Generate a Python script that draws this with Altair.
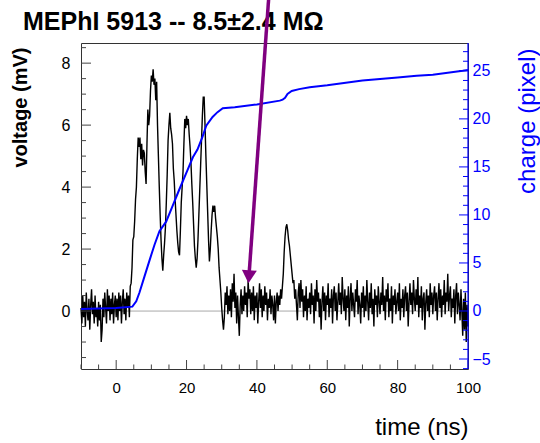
import altair as alt
import pandas as pd
import numpy as np

FONT = "Liberation Sans"
TITLE = "MEPhI 5913 -- 8.5\u00b12.4 M\u03a9"

# ---- waveform (voltage in mV), sampled every 0.25 ns from -10 ns ----
t_start = -10.0
t_step = 0.25
voltage = [
    0.1, -0.4, 0.5, -0.2, 0.3, -0.5, 0.6, 0.0, -0.3, 0.4, -0.6, 0.2, 0.7, -0.1, 0.3, -0.4, 0.5, -0.2, 0.1, -0.5,
    0.3, -0.3, 0.2, -1.0, -0.6, 0.4, -0.2, 0.6, 0.1, -0.4, 0.7, 0.0, 0.5, -0.3, 0.4, -0.1, 0.6, -0.4, 0.2, 0.5,
    -0.2, 0.4, -0.3, 0.6, 0.0, 0.5, -0.4, 0.3, 0.7, -0.1, 0.4, -0.3, 0.6, 0.1, 0.5, -0.2, 0.8, 0.9, 1.4, 2.3,
    2.4, 2.9, 3.6, 4.0, 4.9, 5.6, 5.3, 5.6, 4.9, 5.4, 4.7, 5.2, 5.1, 4.5, 4.1, 5.4, 6.5, 6.0, 6.3, 7.1,
    7.6, 7.4, 7.8, 7.3, 7.5, 6.8, 7.4, 6.0, 5.0, 4.0, 3.1, 2.3, 1.7, 1.3, 1.8, 2.2, 2.7, 3.5, 4.4, 5.5,
    6.0, 6.4, 5.9, 5.7, 5.4, 4.6, 4.2, 3.6, 3.1, 2.6, 2.2, 1.9, 1.8, 2.6, 3.5, 4.0, 4.5, 5.4, 6.2, 5.9,
    6.3, 6.0, 6.2, 5.7, 5.3, 4.8, 4.1, 3.5, 2.8, 2.1, 1.7, 1.4, 1.7, 2.3, 3.1, 3.9, 4.7, 5.5, 6.3, 6.9,
    6.9, 6.0, 5.0, 4.1, 3.2, 2.3, 1.6, 2.0, 2.6, 3.1, 3.4, 3.2, 3.4, 3.0, 2.7, 2.4, 2.0, 1.4, 1.0, 0.6,
    0.1, -0.3, -0.6, -0.2, 0.6, 0.2, 0.8, -0.1, 0.5, 0.0, 0.7, -0.2, 0.9, 0.3, 1.2, 0.1, 0.6, -0.4, 0.5, -0.2,
    -0.8, 0.2, 0.7, -0.1, 0.5, 0.0, 0.8, 0.2, 0.6, -0.2, 1.0, 0.4, 0.7, -0.1, 0.6, 0.0, 0.8, -0.3, 0.5, 0.1,
    0.6, -0.4, 0.3, 0.9, 0.1, 0.7, -0.2, 0.5, 0.0, 0.8, 0.2, 0.6, -0.3, 0.4, 0.1, 0.7, -0.1, 0.5, 0.2, -0.3,
    0.5, -0.4, 0.3, 0.6, 0.0, 0.5, 0.2, 0.7, 0.4, 0.8, 1.2, 1.9, 2.4, 2.7, 2.8, 2.6, 2.3, 2.1, 1.8, 1.5,
    1.2, 0.9, 1.0, 0.4, 0.7, 0.2, -0.3, 0.6, 0.9, 0.1, 1.0, 0.3, 0.7, -0.2, 0.5, 0.0, 0.8, -0.3, 0.4, 0.1,
    0.6, -0.1, 0.9, 0.2, 0.5, -0.4, 0.7, 0.0, 1.0, 0.3, 0.6, -0.2, 0.4, -0.6, 0.3, 0.8, 0.0, 0.6, -0.3, 0.5,
    0.2, 0.9, -0.2, 0.4, 0.1, 0.7, -0.4, 0.5, 0.8, 0.0, 0.6, -0.3, 0.3, 0.9, 0.2, 0.6, -0.1, 1.1, 0.4, 0.0,
    0.7, -0.3, 0.5, 0.1, 0.8, -0.5, 0.4, 0.9, 0.0, 0.6, 0.2, -0.2, 0.7, 0.3, 1.0, -0.1, 0.5, 0.2, -0.4, 0.6,
    0.1, 0.8, -0.2, 0.5, 0.0, 1.0, 0.3, -0.3, 0.6, 0.1, 0.9, -0.1, 0.4, -0.5, 0.7, 0.2, 0.5, -0.2, 0.8, 0.3,
    -0.1, 0.6, 0.2, 1.1, 0.0, 0.5, -0.3, 0.7, 0.3, 0.9, -0.2, 0.4, 0.0, 0.8, -0.4, 0.5, 0.2, 0.7, -0.1, 0.3,
    0.6, 0.0, 0.9, -0.3, 0.4, 0.1, 0.7, -0.2, 0.5, 0.8, 0.0, 0.6, -0.5, 0.3, 0.9, 0.2, 0.6, -0.1, 1.0, 0.4,
    0.0, 0.7, 0.2, 1.1, -0.2, 0.5, 0.1, 0.8, -0.3, 0.4, 0.6, -0.6, 0.3, 0.7, 0.0, 0.5, -0.2, 0.9, 0.2, 0.6,
    -0.1, 0.5, 0.8, 0.0, 0.6, -0.3, 0.4, 0.9, 0.1, 0.7, -0.2, 0.5, 0.2, 1.0, -0.1, 0.6, 0.3, 1.2, 0.0, 0.5,
    0.8, -0.2, 0.4, 0.1, 0.7, -0.4, 0.5, 0.9, -0.1, 0.6, 0.2, -0.3, 0.7, 0.0, -0.8, 0.4, -0.6, 0.6, -1.0, 0.2,
    -0.5,
]
time = [t_start + i * t_step for i in range(len(voltage))]

# ---- integrated charge (pixel) ----
charge_t = [-10, -5, 0, 4.6, 5.7, 6.6, 8.05, 9.5, 10.9, 12.3, 14.2, 16.1, 18.0, 20.3, 21.8,
            23.1, 24.5, 25.6, 27.4, 28.8, 30.3, 33.7, 40, 46.5, 47.3, 48.0, 48.7, 49.9, 52, 55,
            60, 70, 80, 85.4, 90, 98.5, 100]
charge_q = [0.2, 0.25, 0.3, 0.45, 1.0, 1.9, 3.6, 5.3, 6.9, 8.3, 9.3, 11.0, 12.7, 14.7, 16.0,
            16.8, 18.1, 19.3, 20.2, 20.7, 21.1, 21.2, 21.5, 21.9, 22.0, 22.2, 22.6, 22.9, 23.1, 23.3,
            23.5, 24.0, 24.3, 24.5, 24.6, 25.0, 25.1]

# ---- annotation arrow (time ns, voltage mV): tail, head ----
arrow_t = [43.6, 37.73]
arrow_v = [10.5, 1.11]

# ---- axes ----
time_labels = [0, 20, 40, 60, 80, 100]
volt_labels = [0, 2, 4, 6, 8]
charge_labels = [-5, 0, 5, 10, 15, 20, 25]
time_minor = [v for v in np.arange(-10, 100.1, 5).tolist() if v not in time_labels]
volt_minor = [v for v in np.arange(-1.5, 8.6, 0.5).tolist() if v not in volt_labels]
charge_minor = [v for v in range(-6, 28) if v not in charge_labels]

W, H = 387, 326
BLUE = "#0000ff"
TICK = "#444444"

x_scale = alt.Scale(domain=[-10, 100], nice=False, zero=False)
v_scale = alt.Scale(domain=[-1.87, 8.65], nice=False, zero=False)
q_scale = alt.Scale(domain=[-6.04, 27.9], nice=False, zero=False)

x_axis = alt.Axis(values=time_labels, ticks=False, tickSize=0, domain=False, grid=False,
                  labelFont=FONT, labelFontSize=15, labelColor="black", labelPadding=11,
                  labelFlush=False, labelOverlap=False,
                  title="time (ns)", titleFont=FONT, titleFontSize=24, titleFontWeight="normal",
                  titleColor="black", titleAngle=0, titleAlign="right", titleBaseline="middle",
                  titleX=W, titleY=58)
v_axis = alt.Axis(orient="left", values=volt_labels, ticks=False, tickSize=0, domain=False, grid=False,
                  labelFont=FONT, labelFontSize=16, labelColor="black", labelPadding=11,
                  labelFlush=False, labelOverlap=False,
                  title="voltage (mV)", titleFont=FONT, titleFontSize=20, titleFontWeight="bold",
                  titleColor="black", titleAngle=270, titleAlign="right", titleBaseline="middle",
                  titleX=-61, titleY=4)
q_axis = alt.Axis(orient="right", values=charge_labels, ticks=False, tickSize=0, domain=False, grid=False,
                  labelFont=FONT, labelFontSize=16, labelColor=BLUE, labelPadding=4,
                  labelFlush=False, labelOverlap=False,
                  title="charge (pixel)", titleFont=FONT, titleFontSize=24, titleFontWeight="normal",
                  titleColor=BLUE, titleAngle=270, titleAlign="right", titleBaseline="middle",
                  titleX=59, titleY=5)

wave_df = pd.DataFrame({"t": time, "v": voltage})
charge_df = pd.DataFrame({"t": charge_t, "q": charge_q})
arrow_df = pd.DataFrame({"t": arrow_t, "v": arrow_v})
head_df = arrow_df.iloc[[1]]

X = alt.X("t:Q", scale=x_scale, axis=x_axis)

zero_line = alt.Chart(pd.DataFrame({"v": [0]})).mark_rule(color="#a8a8a8", strokeWidth=1).encode(
    y=alt.Y("v:Q", scale=v_scale, axis=v_axis), x=alt.value(0), x2=alt.value(W))
wave = alt.Chart(wave_df).mark_line(color="black", strokeWidth=1.4).encode(
    x=X, y=alt.Y("v:Q", scale=v_scale, axis=v_axis))
vmaj = alt.Chart(pd.DataFrame({"v": volt_labels})).mark_rule(color=TICK).encode(
    y=alt.Y("v:Q", scale=v_scale, axis=v_axis), x=alt.value(0), x2=alt.value(10))
vmin = alt.Chart(pd.DataFrame({"v": volt_minor})).mark_rule(color=TICK).encode(
    y=alt.Y("v:Q", scale=v_scale, axis=v_axis), x=alt.value(0), x2=alt.value(5))
tmaj = alt.Chart(pd.DataFrame({"t": time_labels})).mark_rule(color=TICK).encode(
    x=X, y=alt.value(H), y2=alt.value(H - 9))
tmin = alt.Chart(pd.DataFrame({"t": time_minor})).mark_rule(color=TICK).encode(
    x=X, y=alt.value(H), y2=alt.value(H - 4.5))
title_txt = alt.Chart(pd.DataFrame({"label": [TITLE]})).mark_text(
    align="left", baseline="alphabetic", font=FONT, fontSize=25, fontWeight="bold", color="black"
).encode(text="label:N", x=alt.value(-58), y=alt.value(-13))

volt_layer = alt.layer(zero_line, wave, vmaj, vmin, tmaj, tmin, title_txt)

charge_line = alt.Chart(charge_df).mark_line(color=BLUE, strokeWidth=2).encode(
    x=X, y=alt.Y("q:Q", scale=q_scale, axis=q_axis))
qmaj = alt.Chart(pd.DataFrame({"q": charge_labels})).mark_rule(color=BLUE).encode(
    y=alt.Y("q:Q", scale=q_scale, axis=q_axis), x=alt.value(W), x2=alt.value(W - 9))
qmin = alt.Chart(pd.DataFrame({"q": charge_minor})).mark_rule(color=BLUE).encode(
    y=alt.Y("q:Q", scale=q_scale, axis=q_axis), x=alt.value(W), x2=alt.value(W - 5))
redge = alt.Chart(pd.DataFrame({"q": [0]})).mark_rule(color=BLUE, strokeWidth=1.2).encode(
    x=alt.value(W), y=alt.value(0), y2=alt.value(H))

charge_layer = alt.layer(charge_line, qmaj, qmin, redge)

arrow_line = alt.Chart(arrow_df).mark_line(color="#800080", strokeWidth=3.5, clip=False).encode(
    x=X, y=alt.Y("v:Q", scale=v_scale, axis=None))
arrow_head = alt.Chart(head_df).mark_point(shape="triangle-down", filled=True, size=225, angle=4,
                                            color="#800080", opacity=1, clip=False).encode(
    x=X, y=alt.Y("v:Q", scale=v_scale, axis=None))
arrow_layer = alt.layer(arrow_line, arrow_head)

chart = alt.layer(volt_layer, charge_layer, arrow_layer).resolve_scale(
    y="independent"
).properties(
    width=W, height=H,
    autosize=alt.AutoSizeParams(type="none"),
    padding={"left": 81, "top": 43, "right": 72, "bottom": 74},
    background="white",
).configure_view(stroke="#333333", strokeWidth=1)

chart.save("out.html", embed_options={"renderer": "svg", "actions": False})
